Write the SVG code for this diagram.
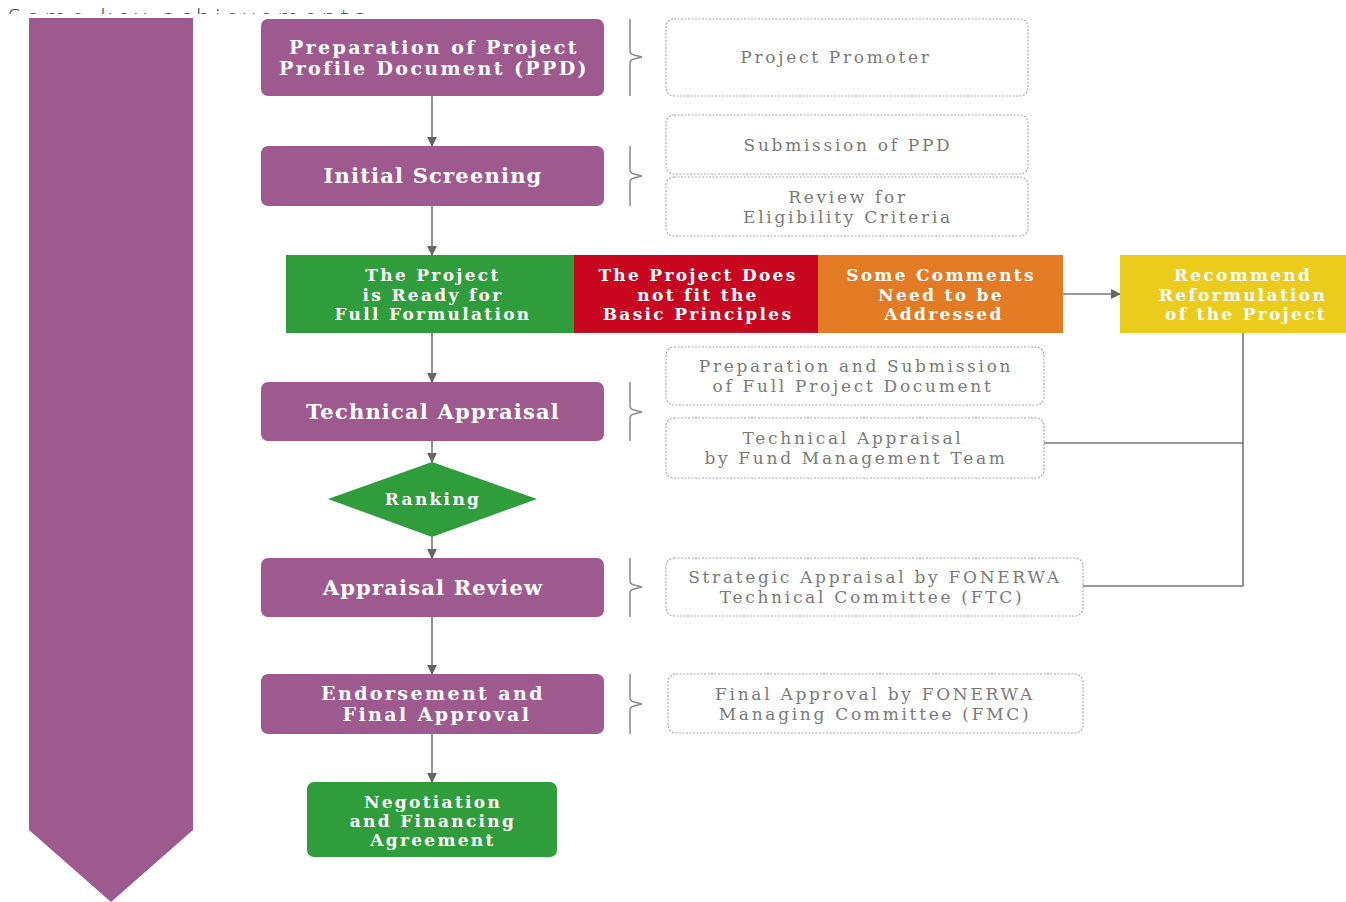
<svg xmlns="http://www.w3.org/2000/svg" width="1346" height="902" viewBox="0 0 1346 902">
<defs>
<style>
.pbox{fill:#9e5a8f}
.wt{fill:#fff;font-family:"DejaVu Serif",serif;font-weight:bold;text-anchor:middle}
.w1{font-size:21px;letter-spacing:1.2px}
.w2{font-size:19px;letter-spacing:2.4px}
.w3{font-size:17px;letter-spacing:2.3px}
.gt{fill:#7a7a7a;font-family:"DejaVu Serif",serif;font-size:17px;letter-spacing:2.7px;text-anchor:middle}
.dbox{fill:#fff;stroke:#aaa;stroke-width:1.2;stroke-dasharray:2 1.5}
.brace{fill:none;stroke:#8a8a8a;stroke-width:1.5}
.conn{fill:none;stroke:#777;stroke-width:1.6}
</style>
<marker id="ah" markerWidth="10" markerHeight="10" refX="9" refY="5" orient="auto" markerUnits="userSpaceOnUse">
<path d="M0,0 L10,5 L0,10 Z" fill="#666"/>
</marker>
<clipPath id="topclip"><rect x="0" y="0" width="1346" height="14"/></clipPath>
</defs>
<rect width="1346" height="902" fill="#fff"/>
<text x="8" y="26" clip-path="url(#topclip)" font-family="Open Sans, sans-serif" font-weight="300" font-size="24" fill="#555" textLength="357">Some key achievements</text>

<g id="bigarrow"><path class="pbox" d="M29,18 L193,18 L193,830 L111,902 L29,830 Z"/></g>

<g id="connectors">
<line class="conn" x1="432" y1="96" x2="432" y2="146" marker-end="url(#ah)"/>
<line class="conn" x1="432" y1="206" x2="432" y2="255" marker-end="url(#ah)"/>
<line class="conn" x1="432" y1="333" x2="432" y2="382" marker-end="url(#ah)"/>
<line class="conn" x1="432" y1="441" x2="432" y2="462" marker-end="url(#ah)"/>
<line class="conn" x1="432" y1="537" x2="432" y2="558" marker-end="url(#ah)"/>
<line class="conn" x1="432" y1="617" x2="432" y2="674" marker-end="url(#ah)"/>
<line class="conn" x1="432" y1="734" x2="432" y2="782" marker-end="url(#ah)"/>
<line class="conn" x1="1063" y1="294" x2="1120" y2="294" marker-end="url(#ah)"/>
<polyline class="conn" points="1243,333 1243,586 1083,586"/>
<line class="conn" x1="1044" y1="443" x2="1243" y2="443"/>
</g>

<g id="braces">
<path class="brace" d="M630,19 L630,51 Q630,54 634,55 L642,57 L634,59 Q630,60 630,63 L630,96"/>
<path class="brace" d="M630,146 L630,170 Q630,173 634,174 L642,176 L634,178 Q630,179 630,182 L630,206"/>
<path class="brace" d="M630,382 L630,406 Q630,409 634,410 L642,412 L634,414 Q630,415 630,418 L630,441"/>
<path class="brace" d="M630,558 L630,581 Q630,584 634,585 L642,587 L634,589 Q630,590 630,593 L630,617"/>
<path class="brace" d="M630,674 L630,698 Q630,701 634,702 L642,704 L634,706 Q630,707 630,710 L630,734"/>
</g>

<g id="n-ppd"><rect class="pbox" x="261" y="19" width="343" height="77" rx="7"/>
<text class="wt w2"><tspan x="434" y="54">Preparation of Project</tspan><tspan x="434" y="75">Profile Document (PPD)</tspan></text></g>

<g id="n-screening"><rect class="pbox" x="261" y="146" width="343" height="60" rx="7"/>
<text class="wt w1" x="433" y="183">Initial Screening</text></g>

<g id="n-ready"><rect x="286" y="255" width="288" height="78" fill="#2f9d3b"/>
<text class="wt w3"><tspan x="433" y="281">The Project</tspan><tspan x="433" y="301">is Ready for</tspan><tspan x="433" y="320">Full Formulation</tspan></text></g>

<g id="n-notfit"><rect x="574" y="255" width="244" height="78" fill="#c9061f"/>
<text class="wt w3"><tspan x="698" y="281">The Project Does</tspan><tspan x="698" y="301">not fit the</tspan><tspan x="698" y="320">Basic Principles</tspan></text></g>

<g id="n-comments"><rect x="818" y="255" width="245" height="78" fill="#e37a24"/>
<text class="wt w3"><tspan x="941" y="281">Some Comments</tspan><tspan x="941" y="301">Need to be</tspan><tspan x="944" y="320">Addressed</tspan></text></g>

<g id="n-reform"><rect x="1120" y="255" width="226" height="78" fill="#ebcb1b"/>
<text class="wt w3"><tspan x="1243" y="281">Recommend</tspan><tspan x="1243" y="301">Reformulation</tspan><tspan x="1246" y="320">of the Project</tspan></text></g>

<g id="n-tech"><rect class="pbox" x="261" y="382" width="343" height="59" rx="7"/>
<text class="wt w1" x="433" y="419">Technical Appraisal</text></g>

<g id="n-ranking"><path d="M432,462 L537,499 L432,537 L328,499 Z" fill="#2f9d3b"/>
<text class="wt w3" x="433" y="505">Ranking</text></g>

<g id="n-review"><rect class="pbox" x="261" y="558" width="343" height="59" rx="7"/>
<text class="wt w1" x="433" y="595">Appraisal Review</text></g>

<g id="n-endorse"><rect class="pbox" x="261" y="674" width="343" height="60" rx="7"/>
<text class="wt w2"><tspan x="433" y="700">Endorsement and</tspan><tspan x="437" y="721">Final Approval</tspan></text></g>

<g id="n-negotiation"><rect x="307" y="782" width="250" height="75" rx="7" fill="#2f9d3b"/>
<text class="wt w3"><tspan x="433" y="808">Negotiation</tspan><tspan x="433" y="827">and Financing</tspan><tspan x="433" y="846">Agreement</tspan></text></g>

<g id="n-promoter"><rect class="dbox" x="666" y="19" width="362" height="77" rx="8"/>
<text class="gt" x="836" y="63">Project Promoter</text></g>

<g id="n-submission"><rect class="dbox" x="666" y="115" width="362" height="59" rx="8"/>
<text class="gt" x="848" y="151">Submission of PPD</text></g>

<g id="n-eligibility"><rect class="dbox" x="666" y="177" width="362" height="59" rx="8"/>
<text class="gt"><tspan x="848" y="203">Review for</tspan><tspan x="848" y="223">Eligibility Criteria</tspan></text></g>

<g id="n-fullpd"><rect class="dbox" x="666" y="347" width="378" height="58" rx="8"/>
<text class="gt"><tspan x="856" y="372">Preparation and Submission</tspan><tspan x="853" y="392">of Full Project Document</tspan></text></g>

<g id="n-fmt"><rect class="dbox" x="666" y="418" width="378" height="60" rx="8"/>
<text class="gt"><tspan x="853" y="444">Technical Appraisal</tspan><tspan x="856" y="464">by Fund Management Team</tspan></text></g>

<g id="n-ftc"><rect class="dbox" x="666" y="558" width="417" height="58" rx="8"/>
<text class="gt"><tspan x="875" y="583">Strategic Appraisal by FONERWA</tspan><tspan x="872" y="603">Technical Committee (FTC)</tspan></text></g>

<g id="n-fmc"><rect class="dbox" x="668" y="674" width="415" height="59" rx="8"/>
<text class="gt"><tspan x="875" y="700">Final Approval by FONERWA</tspan><tspan x="875" y="720">Managing Committee (FMC)</tspan></text></g>
</svg>
